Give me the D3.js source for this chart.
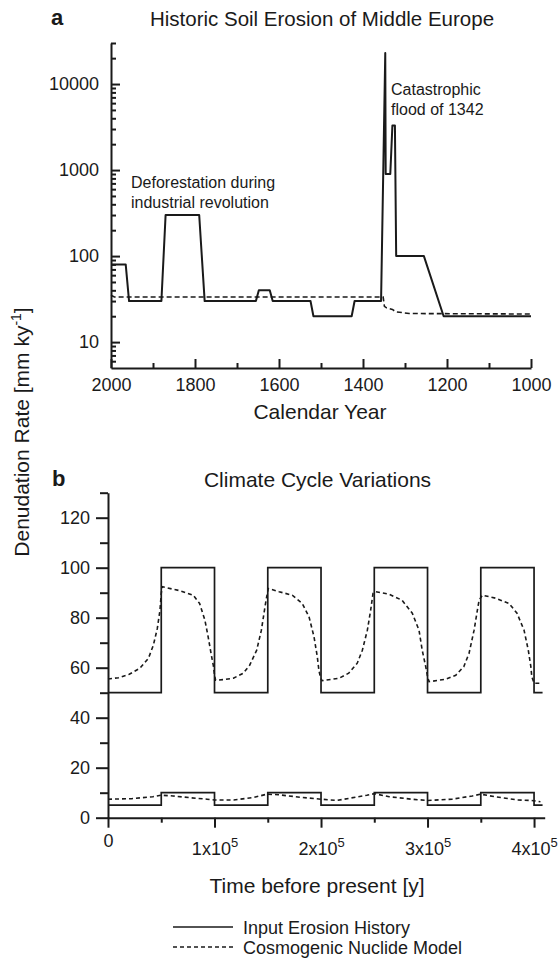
<!DOCTYPE html>
<html><head><meta charset="utf-8">
<script src="https://cdn.jsdelivr.net/npm/d3@7"></script>
<style>
body{margin:0;background:#fff}
text{font-family:"Liberation Sans",Arial,Helvetica,sans-serif;fill:#1a1a1a}
</style>
</head><body>
<svg id="c" width="558" height="965"></svg>
<script>
// ---------- Panel a data (calendar year, denudation rate mm/ky) ----------
const yearsInputA = [2000,1965,1957,1880,1870,1790,1777,1655,1648,1622,1615,1525,1518,1427,1420,1357,1347,1346,1335,1330,1324,1321,1255,1208,1000];
const ratesInputA = [80,80,30,30,300,300,30,30,40,40,30,30,20,20,30,30,23000,900,900,3300,3300,100,100,20,20];
const yearsModelA = [2000,1992,1352,1349,1344,1330,1322,1290,1000];
const ratesModelA = [35,33.5,33.5,26,25,24,22.5,21.5,21.2];
const yTicksA = [10,100,1000,10000];
const yMinorA = [6,7,8,9,20,30,40,50,60,70,80,90,200,300,400,500,600,700,800,900,2000,3000,4000,5000,6000,7000,8000,9000,20000,30000];
const xTicksA = [2000,1800,1600,1400,1200,1000];
const xMinorA = [1900,1700,1500,1300,1100];

// ---------- Panel b data (time before present y, rate) ----------
const stepTimesB = [0,50000,100000,150000,200000,250000,300000,350000,400000,408000];
const inputHighB = [50,100,50,100,50,100,50,100,50,50];
const inputLowB  = [5,10,5,10,5,10,5,10,5,5];
const modelHighT = [0,10000,20000,30000,38000,42600,46300,48800,50000,51000,60000,67600,80000,86000,91000,94000,97300,99000,100000,101000,
  110000,117700,127000,133000,139600,144000,147400,149000,150500,160600,173000,182400,188700,193400,196500,198000,199500,201000,
  217000,226000,234000,238800,243500,246600,248800,251000,263800,276000,285700,292000,295000,298300,300000,301400,
  317000,326500,334000,339000,343700,346800,348400,351500,364000,376500,384000,390600,394600,397000,397900,400000,407600];
const modelHighV = [55.5,56,57.4,59.8,63.8,69,75.7,83,89.7,92.4,91.5,90.8,89,85.7,79,72.4,64.4,60.6,57,55,
  55.3,55.8,57.8,61,67,75,84.4,88.4,91.7,90.4,89,85.7,80.4,72.4,64.4,59,56,54.8,
  55.8,57.8,61.8,67,75,83,89.7,90.4,89.4,87,81.8,75,67,60.4,56.5,54.4,
  55.4,57,60.4,65.8,75,83,87,89,87.8,85.7,81.8,75,67,60.4,56.4,53.8,53.8];
const modelLowT = [0,22000,42000,50000,61000,77000,93000,100000,118000,137000,149000,160000,180000,200000,215000,243000,250000,264000,285000,300000,323000,342000,350000,363000,385000,397000,406000];
const modelLowV = [7.4,7.6,8.4,9.0,8.7,8.0,7.4,7.1,7.1,8.1,9.4,9.2,8.2,7.4,6.9,9.0,9.6,8.4,7.4,6.9,7.4,8.7,9.4,8.4,7.1,6.9,6.4];
const yTicksB = [0,20,40,60,80,100,120];
const yMinorB = [10,30,50,70,90,110,130];
const xTicksB = [0,100000,200000,300000,400000];
const xMinorB = [50000,150000,250000,350000];
const xLabelsB = ["0","1x10|5","2x10|5","3x10|5","4x10|5"];

const legendLabels = ["Input Erosion History","Cosmogenic Nuclide Model"];

const svg = d3.select("#c");
const INK = "#1a1a1a";

function styleAxis(g, keepDomain){
  g.selectAll("path.domain").attr("stroke",INK).attr("stroke-width",2);
  if(!keepDomain) g.select("path.domain").remove();
  g.selectAll(".tick line").attr("stroke",INK).attr("stroke-width",2);
  g.selectAll(".tick text").attr("fill",INK).style("font-family",'"Liberation Sans",Arial,sans-serif').style("font-size","18px");
}

// ================= Panel a =================
const xA = d3.scaleLinear().domain([2000,1000]).range([111,531]);
const yA = d3.scaleLog().domain([5,30000]).range([368,43]);

// y axis
svg.append("g").attr("transform","translate(111,0)")
  .call(d3.axisLeft(yA).tickValues(yMinorA).tickSizeInner(-5).tickSizeOuter(0).tickFormat(""))
  .call(g=>styleAxis(g,false));
svg.append("g").attr("transform","translate(111,0)")
  .call(d3.axisLeft(yA).tickValues(yTicksA).tickSizeInner(-9).tickSizeOuter(0).tickPadding(12).tickFormat(d3.format("d")))
  .call(g=>styleAxis(g,true));
// x axis
svg.append("g").attr("transform","translate(0,368)")
  .call(d3.axisBottom(xA).tickValues(xMinorA).tickSizeInner(-5).tickSizeOuter(0).tickFormat(""))
  .call(g=>styleAxis(g,false));
svg.append("g").attr("transform","translate(0,368)")
  .call(d3.axisBottom(xA).tickValues(xTicksA).tickSizeInner(-9).tickSizeOuter(0).tickPadding(10).tickFormat(d3.format("d")))
  .call(g=>styleAxis(g,true));

const lineA = d3.line().x(d=>xA(d[0])).y(d=>yA(d[1]));
svg.append("path").datum(yearsInputA.map((y,i)=>[y,ratesInputA[i]]))
  .attr("d",lineA).attr("fill","none").attr("stroke",INK).attr("stroke-width",2).attr("stroke-linejoin","round");
svg.append("path").datum(yearsModelA.map((y,i)=>[y,ratesModelA[i]]))
  .attr("d",lineA).attr("fill","none").attr("stroke",INK).attr("stroke-width",1.6).attr("stroke-dasharray","5,3");

svg.append("text").attr("x",51).attr("y",25).attr("font-weight","bold").attr("font-size",22).text("a");
svg.append("text").attr("x",322).attr("y",26).attr("text-anchor","middle").attr("font-size",20.5).text("Historic Soil Erosion of Middle Europe");
svg.append("text").attr("x",131).attr("y",188).attr("font-size",16).text("Deforestation during");
svg.append("text").attr("x",131).attr("y",208).attr("font-size",16).text("industrial revolution");
svg.append("text").attr("x",391).attr("y",95).attr("font-size",16).text("Catastrophic");
svg.append("text").attr("x",391).attr("y",115).attr("font-size",16).text("flood of 1342");
svg.append("text").attr("x",320).attr("y",419).attr("text-anchor","middle").attr("font-size",21).text("Calendar Year");

// shared y label
const yl = svg.append("text").attr("transform","translate(29,432) rotate(-90)").attr("text-anchor","middle").attr("font-size",21);
yl.append("tspan").text("Denudation Rate [mm ky");
yl.append("tspan").attr("font-size",14).attr("dy",-8).text("-1");
yl.append("tspan").attr("dy",8).text("]");

// ================= Panel b =================
const xB = d3.scaleLinear().domain([0,410000]).range([108,544.7]);
const yB = d3.scaleLinear().domain([0,130]).range([817.7,492.7]);

svg.append("g").attr("transform","translate(108,0)")
  .call(d3.axisLeft(yB).tickValues(yMinorB).tickSizeInner(8).tickSizeOuter(0).tickFormat(""))
  .call(g=>styleAxis(g,false));
svg.append("g").attr("transform","translate(108,0)")
  .call(d3.axisLeft(yB).tickValues(yTicksB).tickSizeInner(12).tickSizeOuter(0).tickPadding(6).tickFormat(d3.format("d")))
  .call(g=>styleAxis(g,true));
svg.append("g").attr("transform","translate(0,817.7)")
  .call(d3.axisBottom(xB).tickValues(xMinorB).tickSizeInner(5).tickSizeOuter(0).tickFormat(""))
  .call(g=>styleAxis(g,false));
const gxB = svg.append("g").attr("transform","translate(0,817.7)")
  .call(d3.axisBottom(xB).tickValues(xTicksB).tickSizeInner(10).tickSizeOuter(0).tickFormat(""))
  .call(g=>styleAxis(g,true));
gxB.selectAll(".tick").each(function(d,i){
  const parts = xLabelsB[i].split("|");
  const t = d3.select(this).append("text").attr("text-anchor","middle").attr("fill",INK)
    .style("font-family",'"Liberation Sans",Arial,sans-serif').style("font-size","18px")
    .attr("y", parts.length>1 ? 37 : 29);
  t.append("tspan").text(parts[0]);
  if(parts.length>1) t.append("tspan").attr("dy",-8).style("font-size","13px").text(parts[1]);
});

const stepLine = d3.line().x(d=>xB(d[0])).y(d=>yB(d[1])).curve(d3.curveStepAfter);
const smoothLine = d3.line().x(d=>xB(d[0])).y(d=>yB(d[1]));
svg.append("path").datum(stepTimesB.map((t,i)=>[t,inputHighB[i]]))
  .attr("d",stepLine).attr("fill","none").attr("stroke",INK).attr("stroke-width",1.7);
svg.append("path").datum(stepTimesB.map((t,i)=>[t,inputLowB[i]]))
  .attr("d",stepLine).attr("fill","none").attr("stroke",INK).attr("stroke-width",1.7);
svg.append("path").datum(modelHighT.map((t,i)=>[t,modelHighV[i]]))
  .attr("d",smoothLine).attr("fill","none").attr("stroke",INK).attr("stroke-width",1.6).attr("stroke-dasharray","4,3");
svg.append("path").datum(modelLowT.map((t,i)=>[t,modelLowV[i]]))
  .attr("d",smoothLine).attr("fill","none").attr("stroke",INK).attr("stroke-width",1.6).attr("stroke-dasharray","4,3");

svg.append("text").attr("x",52).attr("y",486).attr("font-weight","bold").attr("font-size",22).text("b");
svg.append("text").attr("x",317.5).attr("y",486.5).attr("text-anchor","middle").attr("font-size",21).text("Climate Cycle Variations");
svg.append("text").attr("x",317).attr("y",893).attr("text-anchor","middle").attr("font-size",21).text("Time before present [y]");

// legend
const lg = svg.append("g");
legendLabels.forEach((lab,i)=>{
  const y = 927 + i*20;
  lg.append("line").attr("x1",173).attr("x2",233).attr("y1",y).attr("y2",y)
    .attr("stroke",INK).attr("stroke-width",1.7).attr("stroke-dasharray", i===1 ? "4,3" : null);
  lg.append("text").attr("x",243).attr("y",y+6.5).attr("font-size",18).text(lab);
});
</script>
</body></html>
